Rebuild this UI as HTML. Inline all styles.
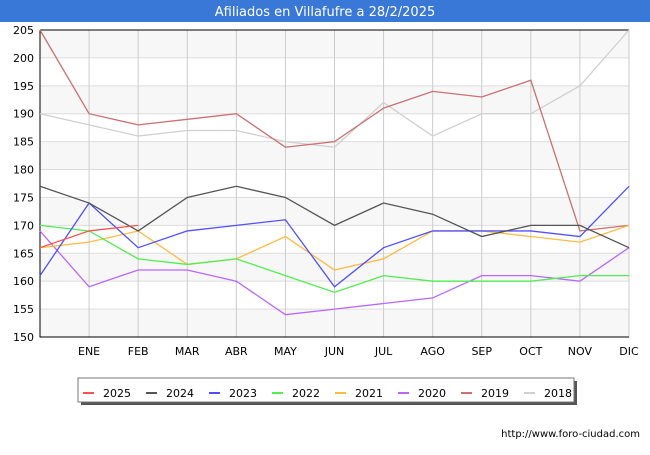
<!DOCTYPE html>
<html><head><meta charset="utf-8"><style>
body{margin:0;background:#fff;font-family:"Liberation Sans","DejaVu Sans",sans-serif}
</style></head><body>
<svg id="c" width="650" height="450" xmlns="http://www.w3.org/2000/svg" font-family="DejaVu Sans, Liberation Sans, sans-serif">
<rect x="0" y="0" width="650" height="450" fill="#fff"/>
<rect x="0" y="0" width="650" height="22" fill="#3a78d8"/>
<text x="325" y="16" text-anchor="middle" fill="#fff" font-size="13">Afiliados en Villafufre a 28/2/2025</text>
<g id="plot"></g>
<text x="640" y="437" text-anchor="end" font-size="10" fill="#000">http://www.foro-ciudad.com</text>
</svg>
<script>
const months=["","ENE","FEB","MAR","ABR","MAY","JUN","JUL","AGO","SEP","OCT","NOV","DIC"];
const yTicks=[150,155,160,165,170,175,180,185,190,195,200,205];
const seriesNames=["2025","2024","2023","2022","2021","2020","2019","2018"];
const seriesColors=["#ff5050","#555555","#5050ff","#50ee50","#ffbb44","#bb66ff","#cc7070","#d0d0d0"];
const s2025=[166,169,170];
const s2024=[177,174,169,175,177,175,170,174,172,168,170,170,166];
const s2023=[161,174,166,169,170,171,159,166,169,169,169,168,177];
const s2022=[170,169,164,163,164,161,158,161,160,160,160,161,161];
const s2021=[166,167,169,163,164,168,162,164,169,169,168,167,170];
const s2020=[169,159,162,162,160,154,155,156,157,161,161,160,166];
const s2019=[205,190,188,189,190,184,185,191,194,193,196,169,170];
const s2018=[190,188,186,187,187,185,184,192,186,190,190,195,205];
const allSeries=[s2025,s2024,s2023,s2022,s2021,s2020,s2019,s2018];
const L=40,R=629,T=30,B=337,yMin=150,yMax=205;
const xs=i=>L+(R-L)*i/(months.length-1);
const ys=v=>B-(v-yMin)*(B-T)/(yMax-yMin);
const NS="http://www.w3.org/2000/svg";
const g=document.getElementById('plot');
function mk(t,a){const e=document.createElementNS(NS,t);for(const k in a)e.setAttribute(k,a[k]);g.appendChild(e);return e;}
for(let v=yMin;v<yMax;v+=5){
  if(((yMax-v-5)/5)%2===0){
    const r=mk('rect',{x:L,y:ys(v+5),width:R-L,height:ys(v)-ys(v+5),fill:'#f7f7f7'});
    
    
  }
}
yTicks.forEach(v=>{
  const l=mk('line',{x1:L,x2:R,y1:ys(v),y2:ys(v),stroke:'#dddddd','stroke-width':1});
  
  
  const t=mk('text',{x:L-6,y:ys(v)+4,'text-anchor':'end','font-size':11,fill:'#000'});
  t.textContent=v;
  
  
});
months.forEach((m,i)=>{
  if(i>0){
    const l=mk('line',{x1:xs(i),x2:xs(i),y1:T,y2:B,stroke:'#cccccc','stroke-width':1});
    
    
  }
  const t=mk('text',{x:xs(i),y:B+18,'text-anchor':'middle','font-size':11,fill:'#000'});
  t.textContent=m;
  
  
});
const ax=mk('path',{d:`M${L} ${T}H${R}M${L} ${T}V${B}H${R}`,stroke:'#000',fill:'none','stroke-width':1});


for(let k=allSeries.length-1;k>=0;k--){
  const d=allSeries[k].map((v,i)=>(i?'L':'M')+xs(i)+' '+ys(v)).join('');
  const p=mk('path',{d:d,stroke:seriesColors[k],fill:'none','stroke-width':1.3});
  
  
}
const sh=mk('rect',{x:81,y:381,width:496,height:24,fill:'#555'});


const lb=mk('rect',{x:78,y:378,width:496,height:24,fill:'#fff',stroke:'#777'});


seriesNames.forEach((n,k)=>{
  const x0=83+k*63;
  const l=mk('line',{x1:x0,x2:x0+11,y1:393,y2:393,stroke:seriesColors[k],'stroke-width':2});
  
  
  const t=mk('text',{x:x0+20,y:397,'font-size':11,fill:'#000'});
  t.textContent=n;
  
  
});
</script>
</body></html>
